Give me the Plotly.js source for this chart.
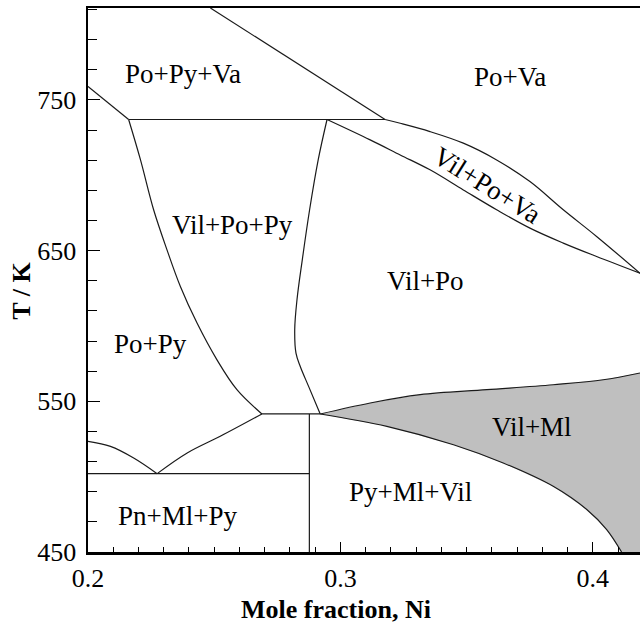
<!DOCTYPE html>
<html>
<head>
<meta charset="utf-8">
<script src="https://cdn.plot.ly/plotly-3.0.1.min.js"></script>
<style>html,body{margin:0;padding:0;background:#fff;}#chart{width:640px;height:624px;}</style>
</head>
<body>
<div id="chart"></div>
<script>
// Axis ranges and ticks
const xRange = [0.2, 0.4187];
const yRange = [450, 811];
const xTickVals = [0.2, 0.3, 0.4];
const xTickText = ['0.2', '0.3', '0.4'];
const yTickVals = [450, 550, 650, 750];
const yTickText = ['450', '550', '650', '750'];
const xTitle = 'Mole fraction, Ni';
const yTitle = 'T / K';

// Phase boundaries (x = mole fraction Ni, T in K)
const topDiagX = [0.2485, 0.3177];
const topDiagT = [811, 737];
const leftUpperX = [0.2, 0.2161];
const leftUpperT = [759, 737];
const tie737X = [0.2161, 0.3177];
const tie737T = [737, 737];
const vilPoPyLeftX = [0.2161, 0.2208, 0.2260, 0.2313, 0.2366, 0.2432, 0.2511, 0.2590, 0.2689];
const vilPoPyLeftT = [737, 710.2, 677.1, 650.5, 626.2, 601.9, 577.5, 557.7, 541.6];
const vilPoPyRightX = [0.2947, 0.2912, 0.2878, 0.2849, 0.2828, 0.2819, 0.2824, 0.2841, 0.2874, 0.2920];
const vilPoPyRightT = [737, 710.2, 677.1, 643.9, 617.4, 597.5, 582.0, 573.1, 559.9, 541.6];
const poVaUpperX = [0.3177, 0.3237, 0.3355, 0.3487, 0.3619, 0.3751, 0.3883, 0.4015, 0.4187];
const poVaUpperT = [737, 734.5, 729.0, 721.3, 710.2, 695.8, 677.1, 659.4, 635];
const vilPoLowerX = [0.2947, 0.3118, 0.3237, 0.3355, 0.3487, 0.3619, 0.3751, 0.3883, 0.4015, 0.4187];
const vilPoLowerT = [737, 723.5, 713.5, 703.6, 690.3, 677.1, 664.9, 655.0, 646.1, 635];
const lowerVLeftX = [0.2, 0.2089, 0.2181, 0.2274];
const lowerVLeftT = [523.4, 520.1, 512.4, 502];
const lowerVRightX = [0.2274, 0.2393, 0.2524, 0.2689];
const lowerVRightT = [502, 515.7, 526.8, 541.6];
const tie542X = [0.2689, 0.2920];
const tie542T = [541.6, 541.6];
const tie502X = [0.2, 0.2877];
const tie502T = [502, 502];
const vertX = [0.2877, 0.2877];
const vertT = [541.6, 450];
const vilMlUpperX = [0.2920, 0.3118, 0.3316, 0.3580, 0.3843, 0.4041, 0.4187];
const vilMlUpperT = [541.6, 548.9, 554.4, 557.7, 561.0, 564.3, 568.8];
const vilMlLowerX = [0.2920, 0.3184, 0.3448, 0.3645, 0.3843, 0.3976, 0.4055, 0.4114];
const vilMlLowerT = [541.6, 533.4, 521.2, 509.1, 493.6, 478.2, 464.9, 450];

// Region labels
const labelText = ['Po+Py+Va', 'Po+Va', 'Vil+Po+Py', 'Vil+Po', 'Po+Py', 'Vil+Ml', 'Py+Ml+Vil', 'Pn+Ml+Py', 'Vil+Po+Va'];
const labelX = [0.2378, 0.3672, 0.2574, 0.3336, 0.2247, 0.3761, 0.3279, 0.2353, 0.3580];
const labelT = [767.2, 765.5, 667.1, 630.0, 587.9, 532.8, 489.7, 473.7, 693.6];
const labelAngle = [0, 0, 0, 0, 0, 0, 0, 0, 32];

const FONT = 'Liberation Serif';
const lineStyle = {color: '#1a1a1a', width: 1.2};

const traces = [];
// gray Vil+Ml region
traces.push({
  x: vilMlUpperX.concat([xRange[1]], vilMlLowerX.slice().reverse()),
  y: vilMlUpperT.concat([yRange[0]], vilMlLowerT.slice().reverse()),
  mode: 'lines', fill: 'toself', fillcolor: '#bfbfbf',
  line: {width: 0, color: 'rgba(0,0,0,0)'}, hoverinfo: 'skip'
});
const curves = [
  [topDiagX, topDiagT], [leftUpperX, leftUpperT], [tie737X, tie737T],
  [vilPoPyLeftX, vilPoPyLeftT], [vilPoPyRightX, vilPoPyRightT],
  [poVaUpperX, poVaUpperT], [vilPoLowerX, vilPoLowerT],
  [lowerVLeftX, lowerVLeftT], [lowerVRightX, lowerVRightT],
  [tie542X, tie542T], [tie502X, tie502T], [vertX, vertT],
  [vilMlUpperX, vilMlUpperT], [vilMlLowerX, vilMlLowerT]
];
curves.forEach(c => traces.push({x: c[0], y: c[1], mode: 'lines', line: Object.assign({shape: 'spline', smoothing: 1}, lineStyle), hoverinfo: 'skip'}));

const annotations = labelText.map((t, i) => ({
  x: labelX[i], y: labelT[i], xref: 'x', yref: 'y', text: t, showarrow: false,
  textangle: labelAngle[i], font: {family: FONT, size: 27, color: '#000'},
  xanchor: 'center', yanchor: 'middle'
}));
// axis titles (the original figure is cropped, so titles sit off the plot centre)
annotations.push({
  x: 0.449, y: -0.106, xref: 'paper', yref: 'paper', text: xTitle, showarrow: false,
  font: {family: FONT, size: 26, weight: 'bold', color: '#000'}, xanchor: 'center', yanchor: 'middle'
});
annotations.push({
  x: -0.12, y: 0.48, xref: 'paper', yref: 'paper', text: yTitle, showarrow: false, textangle: -90,
  font: {family: FONT, size: 26, weight: 'bold', color: '#000'}, xanchor: 'center', yanchor: 'middle'
});

const layout = {
  width: 640, height: 624,
  margin: {l: 88, r: 0, t: 8, b: 72, pad: 0},
  paper_bgcolor: '#fff', plot_bgcolor: '#fff',
  showlegend: false, hovermode: false,
  font: {family: FONT, color: '#000'},
  xaxis: {
    range: xRange, showgrid: false, zeroline: false,
    showline: true, linecolor: '#000', linewidth: 2.5, mirror: true,
    ticks: 'inside', ticklen: 10, tickwidth: 1, tickcolor: '#000',
    tickvals: xTickVals, ticktext: xTickText,
    tickfont: {family: FONT, size: 26, color: '#000'},
    ticklabelstandoff: 1,
    minor: {dtick: 0.01, tick0: 0.2, ticks: 'inside', ticklen: 5, tickwidth: 1, tickcolor: '#000', showgrid: false}
  },
  yaxis: {
    range: yRange, showgrid: false, zeroline: false,
    showline: true, linecolor: '#000', linewidth: 2.5, mirror: false,
    ticks: 'inside', ticklen: 12, tickwidth: 1, tickcolor: '#000',
    tickvals: yTickVals, ticktext: yTickText,
    tickfont: {family: FONT, size: 26, color: '#000'},
    ticklabelstandoff: 4,
    minor: {dtick: 20, tick0: 450, ticks: 'inside', ticklen: 9, tickwidth: 1, tickcolor: '#000', showgrid: false}
  },
  annotations: annotations
};

Plotly.newPlot('chart', traces, layout, {staticPlot: true, displayModeBar: false});
</script>
</body>
</html>
